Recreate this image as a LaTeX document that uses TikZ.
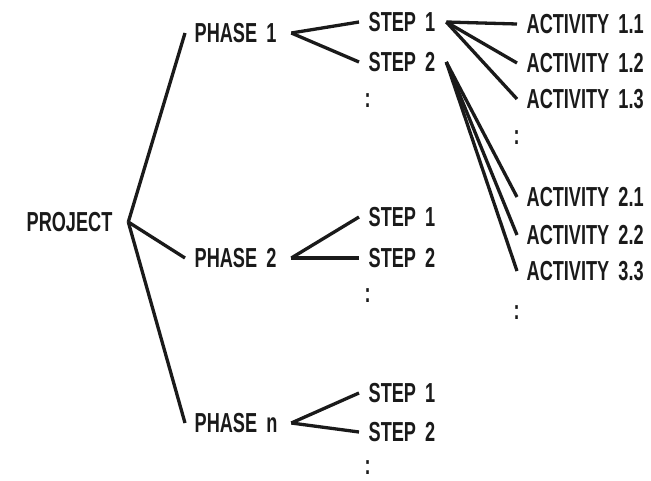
\documentclass[tikz,border=0pt]{standalone}
\usepackage{fontspec}
\newfontfamily\wbsfont{Liberation Sans}[FakeStretch=0.66]
\definecolor{ink}{HTML}{1A1A1A}
\begin{document}
\begin{tikzpicture}[x=1pt,y=-1pt,line width=3.3pt,color=ink]
	\useasboundingbox (0,0) rectangle (651,480);
	\begin{scope}[every node/.style={anchor=west,inner xsep=8pt,inner ysep=1pt,
		align=left,font=\wbsfont\bfseries\fontsize{27.5}{30}\selectfont}]
	\node (prj) at (17,222) [text width=92pt]{PROJECT};
	\node (ph1) at (185,33) [text width=87pt]{PHASE 1};
	\node (ph2) at (185,258) [text width=87pt]{PHASE 2};
	\node (phn) at (185,423) [text width=87pt]{PHASE n};
	\node (s11) at (359,22) [text width=68pt]{STEP 1};
	\node (s12) at (359,62) [text width=68pt]{STEP 2};
	\node (d1) at (355,101) {:};
	\node (s21) at (359,217) [text width=68pt]{STEP 1};
	\node (s22) at (359,258) [text width=68pt]{STEP 2};
	\node (d2) at (355,296) {:};
	\node (sn1) at (359,393) [text width=68pt]{STEP 1};
	\node (sn2) at (359,432) [text width=68pt]{STEP 2};
	\node (dn) at (355,468) {:};
	\node (a11) at (517,24) [text width=125pt]{ACTIVITY 1.1};
	\node (a12) at (517,63) [text width=125pt]{ACTIVITY 1.2};
	\node (a13) at (517,99) [text width=125pt]{ACTIVITY 1.3};
	\node (da1) at (504,138) {:};
	\node (a21) at (517,197) [text width=125pt]{ACTIVITY 2.1};
	\node (a22) at (517,235) [text width=125pt]{ACTIVITY 2.2};
	\node (a33) at (517,271) [text width=125pt]{ACTIVITY 3.3};
	\node (da2) at (504,313) {:};
	\end{scope}
	
	\path (prj.east) edge (ph1.west);
	\path (prj.east) edge (ph2.west);
	\path (prj.east) edge (phn.west);
	\path (ph1.east) edge (s11.west);
	\path (ph1.east) edge (s12.west);
	\path (ph2.east) edge (s21.west);
	\path (ph2.east) edge (s22.west);
	\path (phn.east) edge (sn1.west);
	\path (phn.east) edge (sn2.west);
	\path (s11.east) edge (a11.west);
	\path (s11.east) edge (a12.west);
	\path (s11.east) edge (a13.west);
	\path (s12.east) edge (a21.west);
	\path (s12.east) edge (a22.west);
	\path (s12.east) edge (a33.west);
\end{tikzpicture}
\end{document}
